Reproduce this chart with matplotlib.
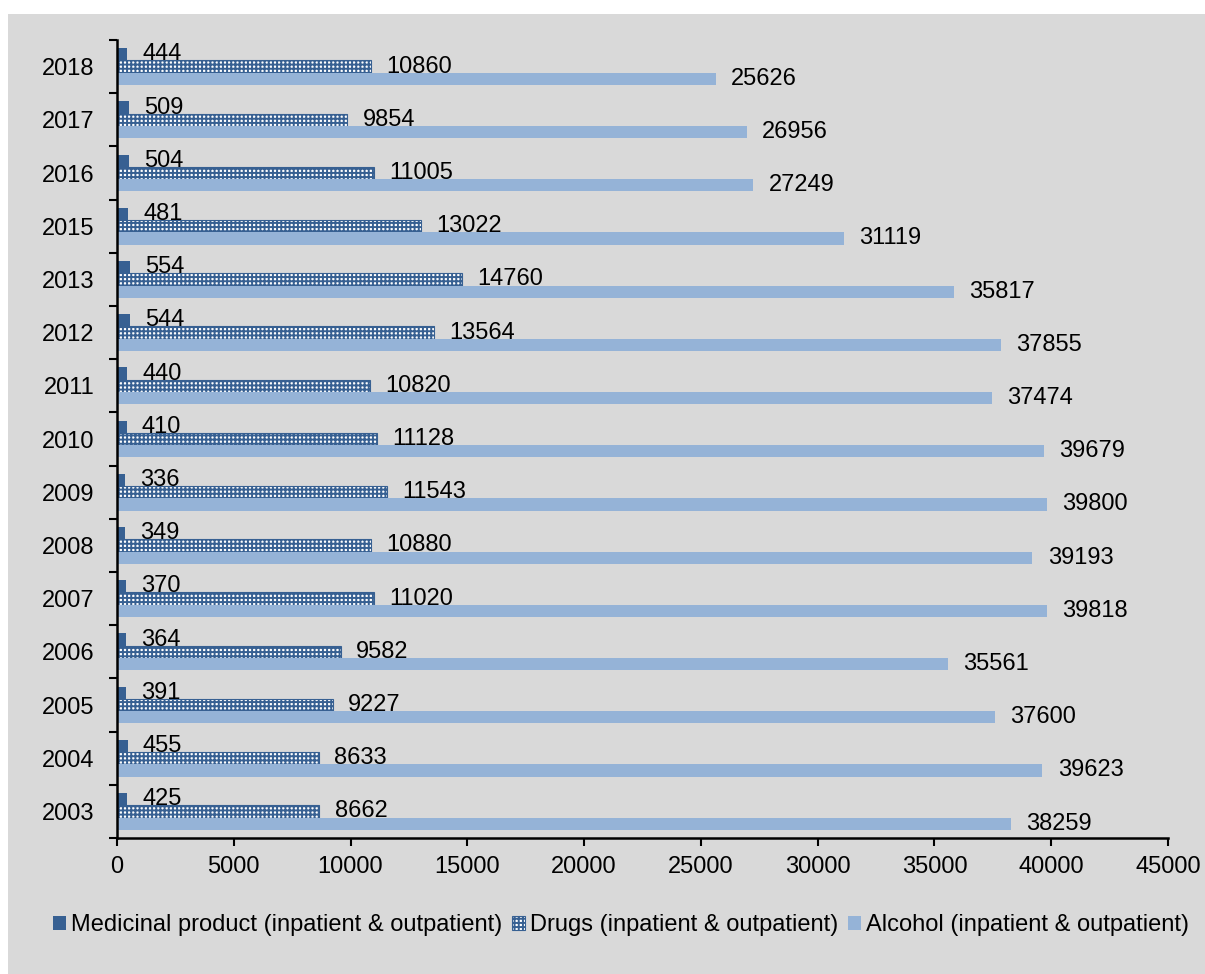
import matplotlib.pyplot as plt
from matplotlib.patches import Rectangle
import numpy as np

plt.rcParams['font.family'] = ['Liberation Sans', 'DejaVu Sans']
plt.rcParams['hatch.linewidth'] = 1.4

years = ['2003', '2004', '2005', '2006', '2007', '2008', '2009', '2010',
         '2011', '2012', '2013', '2015', '2016', '2017', '2018']
medicinal = [425, 455, 391, 364, 370, 349, 336, 410, 440, 544, 554, 481, 504, 509, 444]
drugs = [8662, 8633, 9227, 9582, 11020, 10880, 11543, 11128, 10820, 13564,
         14760, 13022, 11005, 9854, 10860]
alcohol = [38259, 39623, 37600, 35561, 39818, 39193, 39800, 39679, 37474, 37855,
           35817, 31119, 27249, 26956, 25626]

labels = ['Medicinal product (inpatient & outpatient)',
          'Drugs (inpatient & outpatient)',
          'Alcohol (inpatient & outpatient)']

dark = '#376092'
light = '#95B3D7'
panel = '#D9D9D9'
fs = 17

fig = plt.figure(figsize=(12.05, 9.74), dpi=100)
fig.patch.set_facecolor('white')
# grey chart area behind everything
fig.patches.append(Rectangle((8 / 1205, 0), 1 - 8 / 1205, 1 - 14 / 974,
                             transform=fig.transFigure, facecolor=panel,
                             edgecolor='none', zorder=-10))

ax = fig.add_axes([117 / 1205, 1 - 838 / 974, (1168 - 117) / 1205, (838 - 40) / 974])
ax.set_facecolor(panel)

y = np.arange(len(years))
h = 0.23
b1 = ax.barh(y + h, medicinal, height=h, color=dark, linewidth=0, label=labels[0])
b2 = ax.barh(y, drugs, height=h, color='white', edgecolor=dark, hatch='++++',
             linewidth=0.8, label=labels[1])
b3 = ax.barh(y - h, alcohol, height=h, color=light, linewidth=0, label=labels[2])

for bars, vals in ((b1, medicinal), (b2, drugs), (b3, alcohol)):
    for rect, v in zip(bars, vals):
        ax.annotate(str(v), (v, rect.get_y() + rect.get_height() / 2),
                    xytext=(11, 0), textcoords='offset points',
                    va='center', ha='left', fontsize=fs)

ax.set_xlim(0, 45000)
ax.set_ylim(-0.5, len(years) - 0.5)
ax.set_xticks(np.arange(0, 45001, 5000))
ax.set_yticks(y)
ax.set_yticklabels(years)
ax.set_yticks(np.arange(-0.5, len(years), 1), minor=True)
ax.tick_params(axis='y', which='major', length=0, pad=16, labelsize=fs)
ax.tick_params(axis='y', which='minor', length=6, width=1.5)
ax.tick_params(axis='x', length=6, width=1.5, pad=7, labelsize=fs)
for s in ('top', 'right'):
    ax.spines[s].set_visible(False)
for s in ('left', 'bottom'):
    ax.spines[s].set_linewidth(1.8)

leg = fig.legend(handles=[b1, b2, b3], loc='center', ncol=3,
                 bbox_to_anchor=(621 / 1205, 1 - 925 / 974), frameon=False,
                 fontsize=fs, handlelength=0.55, handleheight=0.55,
                 handletextpad=0.22, columnspacing=0.42)

fig.savefig('out.png', dpi=100, facecolor=fig.get_facecolor())
